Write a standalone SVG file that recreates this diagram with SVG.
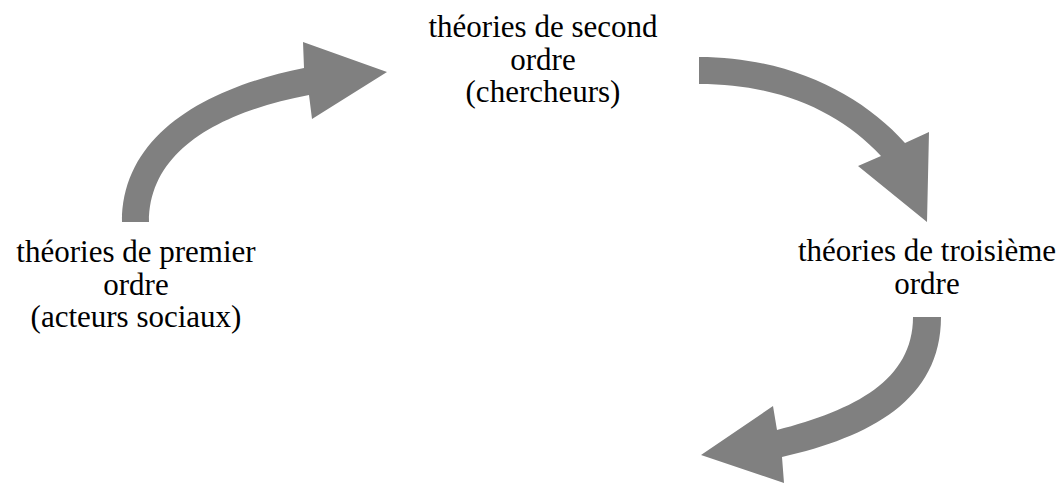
<svg xmlns="http://www.w3.org/2000/svg" width="1063" height="484" viewBox="0 0 1063 484">
<style>
.lbl{font-family:"Liberation Serif","Times New Roman",serif;font-size:31px;fill:#000;text-anchor:middle}
.arr{fill:#808080;stroke:none}
</style>
<rect width="1063" height="484" fill="#fff"/>
<g id="connectors">
<g id="arrow1">
<path class="arr" d="M122,222 C122,135 205,88 304,68 L303,42 L387,72 L312,119 L309,95 C220,112 149,150 149,222 Z"/>
</g>
<g id="arrow2">
<path class="arr" d="M699,57 C790,57 862,95 905,143 L929,132 L927,222 L858,166 L881,156 C840,112 780,84 699,84 Z"/>
</g>
<g id="arrow3">
<path class="arr" d="M941,317 C941,400 870,437 782,457 L784,483 L701,455 L773,406 L777,430 C855,410 913,380 913,317 Z"/>
</g>
</g>
<g id="node-second">
<text class="lbl" x="543" y="37">théories de second</text>
<text class="lbl" x="543" y="70">ordre</text>
<text class="lbl" x="543" y="102">(chercheurs)</text>
</g>
<g id="node-premier">
<text class="lbl" x="136" y="262">théories de premier</text>
<text class="lbl" x="136" y="294.5">ordre</text>
<text class="lbl" x="136" y="327">(acteurs sociaux)</text>
</g>
<g id="node-troisieme">
<text class="lbl" x="927" y="261">théories de troisième</text>
<text class="lbl" x="927" y="293.5">ordre</text>
</g>
</svg>
